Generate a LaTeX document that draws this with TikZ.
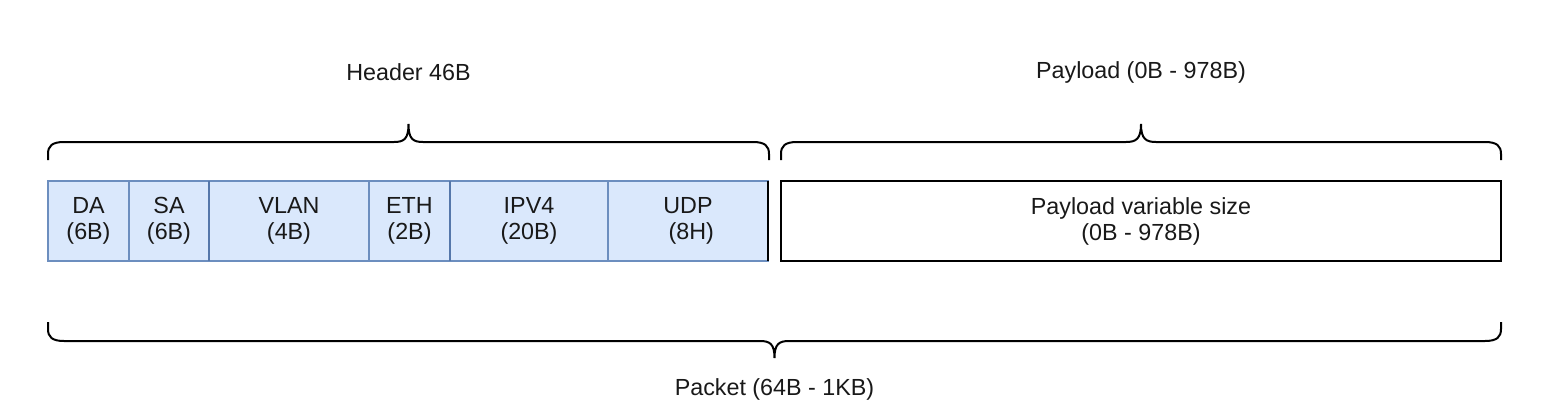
\documentclass[tikz,border=0pt]{standalone}
\usepackage{fontspec}
\setmainfont{Liberation Sans}
\definecolor{fieldfill}{HTML}{DAE8FC}
\definecolor{fieldline}{HTML}{6C8EBF}
\definecolor{fieldsep}{HTML}{5577AA}
\begin{document}
\begin{tikzpicture}[x=1pt,y=-1pt,
  every node/.style={font=\fontsize{23.3}{26}\selectfont, text=black!90},
  field/.style={draw=fieldline, fill=fieldfill, line width=1.5pt, minimum height=80, inner sep=0pt, outer sep=0pt, anchor=north west, align=center},
  plbox/.style={draw=black, line width=2pt, minimum height=80, inner sep=0pt, outer sep=0pt, anchor=north west, align=center},
  bracepath/.style={draw=black, line width=2pt},
  label/.style={anchor=center}]
\useasboundingbox[fill=white] (0,0) rectangle (1550,413);

% header fields
\node[field, minimum width=81]  (da)   at (48,181)  {DA\\(6B)};
\node[field, minimum width=80]  (sa)   at (129,181) {SA\\(6B)};
\node[field, minimum width=160] (vlan) at (209,181) {VLAN\\(4B)};
\node[field, minimum width=81]  (eth)  at (369,181) {ETH\\(2B)};
\node[field, minimum width=158] (ipv4) at (450,181) {IPV4\\(20B)};
\node[field, minimum width=160] (udp)  at (608,181) {UDP\\\ (8H)};
\draw[fieldsep, line width=2pt] (sa.north east) -- (sa.south east);
\draw[fieldsep, line width=2pt] (eth.north east) -- (eth.south east);
\draw[black, line width=2.5pt] (udp.north east) -- (udp.south east);

% payload box
\node[plbox, minimum width=720] (pl) at (781,181) {Payload variable size\\(0B - 978B)};

% braces
\draw[bracepath] (48,160) -- (48,154) .. controls (48,146) and (52,142) .. (64,142)
  -- (394,142) .. controls (404,142) and (408.5,139) .. (408.5,124)
  .. controls (408.5,139) and (413,142) .. (423,142)
  -- (753,142) .. controls (765,142) and (769,146) .. (769,154) -- (769,160);
\draw[bracepath] (781,160) -- (781,154) .. controls (781,146) and (785,142) .. (797,142)
  -- (1126,142) .. controls (1136,142) and (1141,139) .. (1141,124)
  .. controls (1141,139) and (1146,142) .. (1156,142)
  -- (1485,142) .. controls (1497,142) and (1501,146) .. (1501,154) -- (1501,160);
\draw[bracepath] (48,322) -- (48,329) .. controls (48,337) and (52,341) .. (64,341)
  -- (760,341) .. controls (770,341) and (774.5,344) .. (774.5,358)
  .. controls (774.5,344) and (779,341) .. (789,341)
  -- (1485,341) .. controls (1497,341) and (1501,337) .. (1501,329) -- (1501,322);

% labels
\node[label] (hdr) at (408.5,72) {Header 46B};
\node[label] (pay) at (1141,72) {Payload (0B - 978B)};
\node[label] (pkt) at (774.5,389) {Packet (64B - 1KB)};
\end{tikzpicture}
\end{document}
